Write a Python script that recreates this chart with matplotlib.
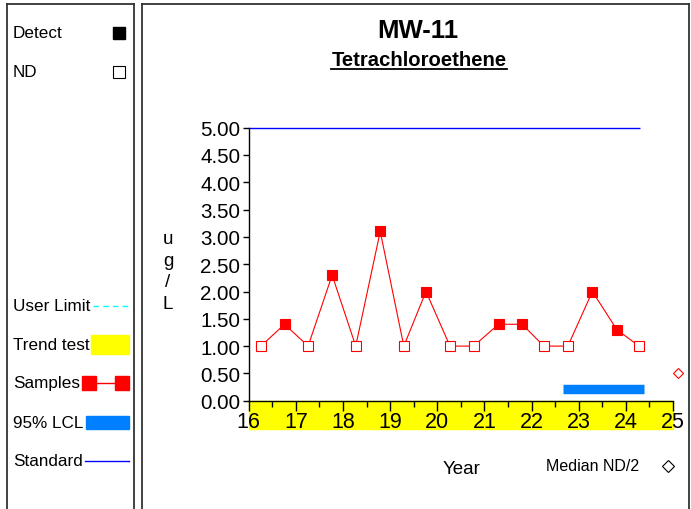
import matplotlib
matplotlib.use("Agg")
import matplotlib.pyplot as plt
from matplotlib.lines import Line2D
from matplotlib.patches import Rectangle

plt.rcParams['font.family'] = ['Liberation Sans', 'DejaVu Sans']

# data
years = [16.26, 16.76, 17.26, 17.77, 18.27, 18.79, 19.29, 19.76, 20.27,
         20.77, 21.30, 21.80, 22.26, 22.77, 23.29, 23.81, 24.28]
conc = [1.0, 1.4, 1.0, 2.3, 1.0, 3.1, 1.0, 2.0, 1.0,
        1.0, 1.4, 1.4, 1.0, 1.0, 2.0, 1.3, 1.0]
detect = [0, 1, 0, 1, 0, 1, 0, 1, 0, 0, 1, 1, 0, 0, 1, 1, 0]
standard = 5.0
standard_span = [16.0, 24.3]
lcl = 0.22
lcl_span = [22.67, 24.38]
median_nd2 = 0.5
median_year = 25.1
trend_span = [16.0, 25.0]
yticks = [0.0, 0.5, 1.0, 1.5, 2.0, 2.5, 3.0, 3.5, 4.0, 4.5, 5.0]
xticks = [16, 17, 18, 19, 20, 21, 22, 23, 24, 25]

W, H = 691, 510
def fx(x): return x / W
def fy(y): return 1 - y / H

fig = plt.figure(figsize=(6.91, 5.10), dpi=100)
ax = fig.add_axes([fx(248.7), fy(401.7), (673 - 248.7) / W, (401.7 - 128.7) / H])

red = '#FF0000'
ax.plot(years, conc, color=red, lw=0.8, zorder=3)
for x, y, d in zip(years, conc, detect):
    ax.plot(x, y, marker='s', ms=7.5, mec=red, mew=0.8,
            mfc=red if d else 'white', zorder=4)

ax.hlines(standard, standard_span[0], standard_span[1], color='#0000FF', lw=1, clip_on=False, zorder=3)
ax.hlines(lcl, lcl_span[0], lcl_span[1], color='#0080FF', lw=6.8, zorder=3)
ax.plot(median_year, median_nd2, marker='D', ms=5, mfc='white', mec=red, mew=0.8, clip_on=False)

# trend test band under the x axis
ax.add_patch(Rectangle((trend_span[0], -0.103), trend_span[1] - trend_span[0], 0.103,
                       transform=ax.get_xaxis_transform(), color='#FFFF00', clip_on=False, zorder=0.5))

ax.set_xlim(16, 25)
ax.set_ylim(0, 5)
ax.set_xticks(xticks)
ax.set_xticks([x + 0.5 for x in xticks[:-1]], minor=True)
ax.set_yticks(yticks)
ax.set_yticklabels(['%.2f' % v for v in yticks])
ax.tick_params(axis='x', which='major', length=7, width=1, pad=0.5, labelsize=15.5)
ax.tick_params(axis='x', which='minor', length=4, width=1)
ax.tick_params(axis='y', length=4, width=1, pad=2, labelsize=14.8)
for s in ['top', 'right']:
    ax.spines[s].set_visible(False)
for s in ['left', 'bottom']:
    ax.spines[s].set_linewidth(1)

# titles and axis labels
fig.text(fx(418), fy(31), 'MW-11', ha='center', va='center', fontsize=18.5, fontweight='bold')
fig.text(fx(419), fy(60), 'Tetrachloroethene', ha='center', va='center', fontsize=14.6, fontweight='bold')
fig.add_artist(Line2D([fx(331), fx(507)], [fy(69.5), fy(69.5)], color='black', lw=1.3))
fig.text(fx(168), fy(272), 'u\ng\n/\nL', ha='center', va='center', fontsize=13.5, linespacing=1.38)
fig.text(fx(462), fy(470), 'Year', ha='center', va='center', fontsize=13.5)
fig.text(fx(593), fy(467), 'Median ND/2', ha='center', va='center', fontsize=11.5)
fig.add_artist(Line2D([fx(668)], [fy(467)], marker='D', ms=6, mfc='white', mec='black', mew=0.8))

# panel frames
fc = '#333333'
for xs, ys in [([7, 7], [5, 510]), ([134, 134], [5, 510]), ([7, 134], [5, 5]),
               ([142, 142], [5, 510]), ([689, 689], [5, 510]), ([142, 689], [5, 5])]:
    fig.add_artist(Line2D([fx(v) for v in xs], [fy(v) for v in ys], color=fc, lw=1.3))

# legend panel
lab = dict(ha='left', va='center', fontsize=12.3)
fig.text(fx(13), fy(34), 'Detect', **lab)
fig.add_artist(Line2D([fx(118.5)], [fy(34)], marker='s', ms=9, mfc='black', mec='black'))
fig.text(fx(13), fy(73), 'ND', **lab)
fig.add_artist(Line2D([fx(118.5)], [fy(73)], marker='s', ms=9, mfc='white', mec='black', mew=0.8))
fig.text(fx(13), fy(307), 'User Limit', **lab)
fig.add_artist(Line2D([fx(93), fx(128)], [fy(307), fy(307)], color='#00FFFF', lw=1, ls=(0, (4, 3))))
fig.text(fx(13), fy(345), 'Trend test', **lab)
fig.add_artist(Rectangle((fx(91), fy(355)), (129 - 91) / W, 19 / H, color='#FFFF00'))
fig.text(fx(13), fy(384), 'Samples', **lab)
fig.add_artist(Line2D([fx(89), fx(122)], [fy(384), fy(384)], color=red, lw=1))
fig.add_artist(Line2D([fx(89), fx(122)], [fy(384), fy(384)], ls='none', marker='s', ms=9.5, mfc=red, mec=red))
fig.text(fx(13), fy(423), '95% LCL', **lab)
fig.add_artist(Rectangle((fx(86), fy(429.5)), (129 - 86) / W, 13 / H, color='#0080FF'))
fig.text(fx(13), fy(462), 'Standard', **lab)
fig.add_artist(Line2D([fx(85), fx(129)], [fy(462), fy(462)], color='#0000FF', lw=1))

fig.savefig('out.png', dpi=100)
